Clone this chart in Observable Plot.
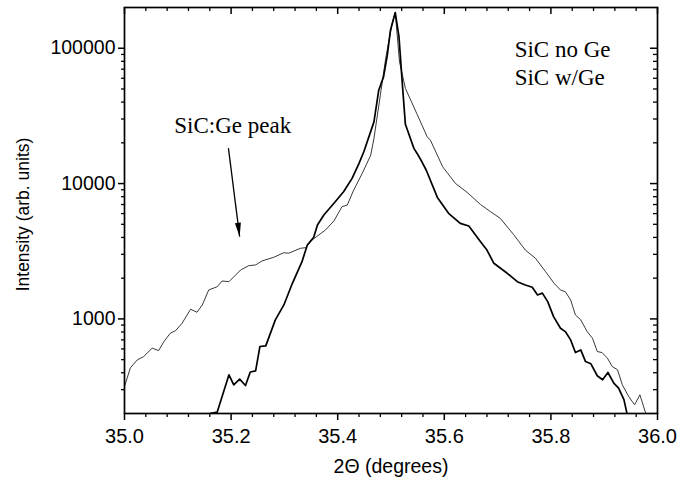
<!DOCTYPE html>
<html><head><meta charset="utf-8">
<script src="https://cdn.jsdelivr.net/npm/d3@7"></script>
<script src="https://cdn.jsdelivr.net/npm/@observablehq/plot@0.6"></script>
<style>body{margin:0;background:#fff}</style>
</head><body><div id="chart"></div>
<script>
// SiC no Ge (thick line)
const noGeX = [35.160, 35.174, 35.196, 35.205, 35.216, 35.227, 35.236, 35.246, 35.254, 35.265, 35.283, 35.299, 35.315, 35.333, 35.343, 35.355, 35.362, 35.374, 35.393, 35.411, 35.427, 35.440, 35.449, 35.468, 35.477, 35.486, 35.493, 35.499, 35.508, 35.515, 35.521, 35.527, 35.543, 35.549, 35.558, 35.566, 35.587, 35.608, 35.630, 35.646, 35.668, 35.680, 35.693, 35.718, 35.737, 35.752, 35.765, 35.775, 35.784, 35.794, 35.805, 35.818, 35.827, 35.837, 35.846, 35.856, 35.865, 35.875, 35.887, 35.897, 35.907, 35.918, 35.927, 35.937, 35.944];
const noGeY = [200, 205, 386, 326, 359, 322, 405, 413, 625, 632, 984, 1268, 1833, 2648, 3514, 4007, 4940, 5861, 7147, 8710, 10920, 14090, 17170, 28560, 48980, 61400, 88700, 135900, 183400, 121100, 56400, 27400, 18200, 16700, 14490, 12600, 7900, 6030, 5082, 4856, 3718, 3227, 2576, 2173, 1884, 1782, 1714, 1503, 1550, 1342, 1040, 853, 806, 700, 564, 590, 484, 466, 380, 355, 402, 335, 308, 253, 190];
// SiC w/Ge (thin line)
const wGeX = [35.000, 35.011, 35.024, 35.036, 35.052, 35.064, 35.074, 35.086, 35.096, 35.108, 35.124, 35.136, 35.146, 35.158, 35.174, 35.183, 35.196, 35.218, 35.233, 35.246, 35.258, 35.280, 35.299, 35.308, 35.330, 35.340, 35.352, 35.377, 35.393, 35.408, 35.418, 35.430, 35.446, 35.462, 35.468, 35.480, 35.490, 35.502, 35.508, 35.516, 35.527, 35.549, 35.568, 35.574, 35.597, 35.621, 35.643, 35.668, 35.687, 35.705, 35.730, 35.752, 35.771, 35.790, 35.806, 35.818, 35.827, 35.837, 35.846, 35.856, 35.868, 35.878, 35.887, 35.896, 35.906, 35.915, 35.925, 35.934, 35.946, 35.957, 35.967, 35.978, 36.000];
const wGeY = [316, 435, 498, 527, 608, 583, 681, 784, 820, 929, 1178, 1120, 1268, 1636, 1730, 1906, 1884, 2300, 2474, 2504, 2680, 2853, 3085, 3055, 3325, 3360, 3827, 4538, 5300, 6746, 6938, 8950, 11890, 16220, 21560, 45000, 83900, 152000, 183400, 79200, 50500, 32500, 22130, 20900, 13300, 10020, 8600, 7000, 6190, 5536, 4200, 3227, 2807, 2233, 1833, 1636, 1590, 1381, 1070, 984, 806, 720, 574, 564, 513, 445, 421, 326, 267, 232, 275, 200, 200];

const xMajor = [35.0, 35.2, 35.4, 35.6, 35.8, 36.0];
const xMinor = [35.04, 35.08, 35.12, 35.16, 35.24, 35.28, 35.32, 35.36, 35.44, 35.48, 35.52, 35.56, 35.64, 35.68, 35.72, 35.76, 35.84, 35.88, 35.92, 35.96];
const yMajor = [1000, 10000, 100000];
const yMinor = [300, 400, 500, 600, 700, 800, 900, 2000, 3000, 4000, 5000, 6000, 7000, 8000, 9000, 20000, 30000, 40000, 50000, 60000, 70000, 80000, 90000];

const legendLabels = ["SiC no Ge", "SiC w/Ge"];
const legendX = [35.732, 35.732];
const legendY = [98000, 61000];
const noteLabel = ["SiC:Ge peak"];
const noteX = [35.203];
const noteY = [27000];
const arrowFrom = [[35.195, 18300]];
const arrowTo = [[35.216, 4050]];

const W = 681, H = 488, mL = 124, mR = 24, mT = 7, mB = 75;
const pW = W - mL - mR, pH = H - mT - mB;

const noGe = noGeX.map((x, i) => ({x, y: noGeY[i]}));
const wGe = wGeX.map((x, i) => ({x, y: wGeY[i]}));
const legend = legendLabels.map((t, i) => ({t, x: legendX[i], y: legendY[i]}));
const note = noteLabel.map((t, i) => ({t, x: noteX[i], y: noteY[i]}));
const arrows = arrowFrom.map((a, i) => ({x1: a[0], y1: a[1], x2: arrowTo[i][0], y2: arrowTo[i][1]}));

// narrow filled arrow head: tip at origin, pointing down
const headSymbol = {draw(ctx) { ctx.moveTo(0, 0); ctx.lineTo(-3, -14); ctx.lineTo(3, -14); ctx.closePath(); }};

const sans = "'Liberation Sans', Arial, Helvetica, sans-serif";
const serif = "'Liberation Serif', 'Times New Roman', serif";

const chart = Plot.plot({
  width: W, height: H,
  marginLeft: mL, marginRight: mR, marginTop: mT, marginBottom: mB,
  style: {fontFamily: sans, background: "#fff", color: "#000"},
  x: {domain: [35, 36], axis: null},
  y: {type: "log", domain: [200, 200000], axis: null},
  marks: [
    Plot.line(wGe, {x: "x", y: "y", stroke: "#222", strokeWidth: 0.9, clip: true}),
    Plot.line(noGe, {x: "x", y: "y", stroke: "#000", strokeWidth: 1.7, clip: true}),
    Plot.frame({stroke: "#000", strokeWidth: 1.7}),
    // bottom axis (outward)
    Plot.axisX(xMajor, {anchor: "bottom", tickSize: 7, tickPadding: 8, tickFormat: d3.format(".1f"), fontSize: 20, label: null, strokeWidth: 1.5}),
    Plot.tickX(xMinor, {x: d => d, insetTop: pH, insetBottom: -4, strokeWidth: 1.3}),
    // top axis (inward)
    Plot.tickX(xMajor, {x: d => d, insetBottom: pH - 7, strokeWidth: 1.5}),
    Plot.tickX(xMinor, {x: d => d, insetBottom: pH - 4, strokeWidth: 1.3}),
    // left axis (outward)
    Plot.axisY(yMajor, {anchor: "left", tickSize: 6, tickPadding: 3, tickFormat: d => String(d), fontSize: 19.5, label: null, strokeWidth: 1.5}),
    Plot.tickY(yMinor, {y: d => d, insetLeft: -3, insetRight: pW, strokeWidth: 1.3}),
    // right axis (inward)
    Plot.tickY(yMajor, {y: d => d, insetLeft: pW - 7, strokeWidth: 1.5}),
    Plot.tickY(yMinor, {y: d => d, insetLeft: pW - 4, strokeWidth: 1.3}),
    // axis titles
    Plot.text(["2\u0398 (degrees)"], {frameAnchor: "bottom", dy: 59, fontSize: 19.5}),
    Plot.text(["Intensity (arb. units)"], {frameAnchor: "left", textAnchor: "middle", rotate: -90, dx: -101, dy: 4, fontSize: 17.5}),
    // annotations
    Plot.text(legend, {x: "x", y: "y", text: "t", textAnchor: "start", fontFamily: serif, fontSize: 23}),
    Plot.text(note, {x: "x", y: "y", text: "t", fontFamily: serif, fontSize: 23}),
    Plot.link(arrows, {x1: "x1", y1: "y1", x2: "x2", y2: "y2", stroke: "#000", strokeWidth: 1.3}),
    Plot.dot(arrows, {x: "x2", y: "y2", symbol: headSymbol, r: 3, fill: "#000", stroke: "none", rotate: -7})
  ]
});
document.getElementById("chart").appendChild(chart);
</script>
</body></html>
